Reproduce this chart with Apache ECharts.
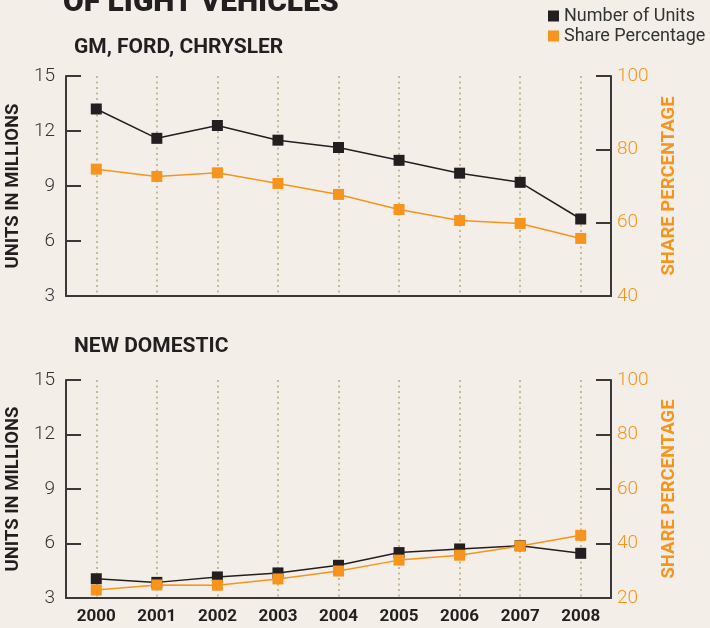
<!DOCTYPE html>
<html>
<head>
<meta charset="utf-8">
<script src="https://cdn.jsdelivr.net/npm/echarts@6/dist/echarts.min.js"></script>
<style>
html,body{margin:0;padding:0;background:#f3efe8;}
#chart{width:710px;height:628px;}
</style>
</head>
<body>
<div id="chart"></div>
<script>
var years = ['2000','2001','2002','2003','2004','2005','2006','2007','2008'];
var bigUnits = [13.2, 11.6, 12.3, 11.5, 11.1, 10.4, 9.7, 9.2, 7.2];
var bigShare = [74.6, 72.6, 73.6, 70.7, 67.7, 63.6, 60.6, 59.8, 55.7];
var newUnits = [4.06, 3.86, 4.16, 4.38, 4.8, 5.5, 5.7, 5.88, 5.46];
var newShare = [22.9, 24.8, 24.7, 27.0, 29.9, 33.9, 35.7, 39.1, 43.0];

var BLACK = '#231f20';
var ORANGE = '#f7941d';
var AXIS = '#3a3838';
var BOLD = 'Roboto';
var LIGHT = 'Roboto';

function xAx(gi, showLabel) {
  return {
    type: 'category', gridIndex: gi, data: years, boundaryGap: true,
    axisLine: {show: true, lineStyle: {color: AXIS, width: 2}},
    axisTick: {show: false},
    axisLabel: {show: showLabel, color: BLACK, fontFamily: BOLD, fontWeight: 'bold', fontSize: 17, margin: 10},
    splitLine: {show: true, alignWithLabel: true, lineStyle: {color: '#c8b89a', width: 2, type: [2, 3.5]}}
  };
}
function yLeft(gi) {
  return {
    type: 'value', gridIndex: gi, min: 3, max: 15, interval: 3, position: 'left',
    name: 'UNITS IN MILLIONS', nameLocation: 'middle', nameGap: 43, nameRotate: 90, nameMoveOverlap: false,
    nameTextStyle: {color: BLACK, fontFamily: BOLD, fontWeight: 'bold', fontSize: 18.5},
    axisLine: {show: true, lineStyle: {color: AXIS, width: 2}},
    axisTick: {show: true, inside: true, length: 15, lineStyle: {color: AXIS, width: 2}},
    axisLabel: {color: '#333', fontFamily: LIGHT, fontWeight: 300, fontSize: 19, margin: 11},
    splitLine: {show: false}
  };
}
function yRight(gi, mn) {
  return {
    type: 'value', gridIndex: gi, min: mn, max: 100, interval: 20, position: 'right',
    name: 'SHARE PERCENTAGE', nameLocation: 'middle', nameGap: 49, nameRotate: 90, nameMoveOverlap: false,
    nameTextStyle: {color: ORANGE, fontFamily: BOLD, fontWeight: 'bold', fontSize: 18.5},
    axisLine: {show: true, lineStyle: {color: AXIS, width: 2}},
    axisTick: {show: true, inside: true, length: 15, lineStyle: {color: AXIS, width: 2}},
    axisLabel: {color: ORANGE, fontFamily: LIGHT, fontWeight: 300, fontSize: 19, margin: 6},
    splitLine: {show: false}
  };
}
function ser(name, data, xi, yi, color, z) {
  return {
    name: name, type: 'line', data: data, xAxisIndex: xi, yAxisIndex: yi, z: z,
    symbol: 'rect', symbolSize: 11, showSymbol: true,
    lineStyle: {color: color, width: 1.5},
    itemStyle: {color: color},
    emphasis: {disabled: true}, animation: false
  };
}

var chart = echarts.init(document.getElementById('chart'), null, {renderer: 'canvas'});
chart.setOption({
  backgroundColor: '#f3efe8',
  animation: false,
  graphic: [
    {type: 'text', left: 63, top: -12, style: {text: 'OF LIGHT VEHICLES', fill: BLACK, font: '900 30px Roboto'}},
    {type: 'text', left: 74, top: 37, style: {text: 'GM, FORD, CHRYSLER', fill: BLACK, font: 'bold 21px Roboto'}},
    {type: 'text', left: 74, top: 336, style: {text: 'NEW DOMESTIC', fill: BLACK, font: 'bold 21px Roboto'}}
  ],
  legend: {
    left: 543, top: 2, orient: 'vertical', itemGap: 2,
    itemWidth: 11, itemHeight: 11, icon: 'rect',
    textStyle: {color: '#333', fontFamily: 'Roboto', fontSize: 18},
    data: [{name: 'Number of Units', itemStyle: {color: BLACK}}, {name: 'Share Percentage', itemStyle: {color: ORANGE}}]
  },
  grid: [
    {left: 66, right: 99, top: 76, height: 220, outerBoundsMode: 'none'},
    {left: 66, right: 99, top: 380, height: 218, outerBoundsMode: 'none'}
  ],
  xAxis: [xAx(0, false), xAx(1, true)],
  yAxis: [yLeft(0), yRight(0, 40), yLeft(1), yRight(1, 20)],
  series: [
    ser('Number of Units', bigUnits, 0, 0, BLACK, 3),
    ser('Share Percentage', bigShare, 0, 1, ORANGE, 2),
    ser('Number of Units', newUnits, 1, 2, BLACK, 3),
    ser('Share Percentage', newShare, 1, 3, ORANGE, 4)
  ]
});
</script>
</body>
</html>
